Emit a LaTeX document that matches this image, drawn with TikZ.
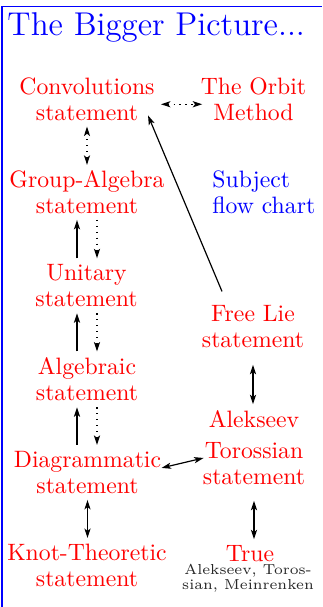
\documentclass[tikz,border=0pt]{standalone}
\usepackage{amsmath}
\usetikzlibrary{calc, positioning}
\usetikzlibrary{arrows.meta}

\newcommand{\upx}{0.4219pt}

\tikzset{
  stmt/.style={text=red, align=center, anchor=base, inner sep=0pt,
    font=\fontsize{10}{10.9}\selectfont},
  bluetext/.style={text=blue, inner sep=0pt},
  solidarr/.style={line width=0.5pt, -{Stealth[length=4pt, width=2.6pt, inset=1pt]},
    shorten <=2.5pt, shorten >=2.5pt},
  dotarr/.style={solidarr, dotted},
  bothsolid/.style={solidarr, {Stealth[length=4pt, width=2.6pt, inset=1pt]}-{Stealth[length=4pt, width=2.6pt, inset=1pt]}},
  bothdot/.style={bothsolid, dotted}
}

\begin{document}
\begin{tikzpicture}[x=0.4219pt, y=-0.4219pt]
\useasboundingbox (0,0) rectangle (322,607);

% frame
\draw[blue, line width=0.55pt] (2,607) -- (2,6.5) -- (322,6.5);

% title and side note
\node[bluetext, anchor=base west, font=\fontsize{13.9}{16}\selectfont] (title) at (7,35) {The Bigger Picture...};
\node[bluetext, anchor=base west, align=left, font=\fontsize{10}{10.9}\selectfont] (subject) at (212,213) {Subject\\flow chart};

% left column (base = last line)
\node[stmt] (conv) at (87,120.7) {Convolutions\\statement};
\node[stmt] (grpalg) at (87,213.3) {Group-Algebra\\statement};
\node[stmt] (unitary) at (86.5,306.7) {Unitary\\statement};
\node[stmt] (algebraic) at (87,400.7) {Algebraic\\statement};
\node[stmt] (diagram) at (87.5,493.3) {Diagrammatic\\statement};
\node[stmt] (knot) at (87,586.7) {Knot-Theoretic\\statement};

% right column
\node[stmt] (orbit) at (253.5,120.7) {The Orbit\\Method};
\node[stmt] (freelie) at (253,347.5) {Free Lie\\statement};
\node[stmt] (at) at (254,484) {Alekseev\\[2pt]Torossian\\statement};
\node[stmt] (true) at (250,561.7) {True};
\node[anchor=base, align=center, inner sep=0pt, text=black!85,
  font=\fontsize{6.1}{5.1}\selectfont] (credit) at (248,589.3) {Alekseev, Toros-\\sian, Meinrenken};

% connectors
\draw[bothdot, shorten <=2.5pt, shorten >=-0.8pt] ([yshift=-4.7*\upx]conv.east) -- ([yshift=-4.7*\upx]orbit.west);
\draw[bothdot, shorten <=2.2pt, shorten >=2.2pt] (conv.south) -- (grpalg.north);

\draw[solidarr] ([xshift=-10*\upx]unitary.north -| grpalg.south) -- ([xshift=-10*\upx]grpalg.south);
\draw[dotarr] ([xshift=10*\upx]grpalg.south) -- ([xshift=10*\upx]unitary.north -| grpalg.south);
\draw[solidarr] ([xshift=-10*\upx]algebraic.north) -- ([xshift=-10*\upx]unitary.south -| algebraic.north);
\draw[dotarr] ([xshift=10*\upx]unitary.south -| algebraic.north) -- ([xshift=10*\upx]algebraic.north);
\draw[solidarr] ([xshift=-10*\upx]diagram.north -| algebraic.south) -- ([xshift=-10*\upx]algebraic.south);
\draw[dotarr] ([xshift=10*\upx]algebraic.south) -- ([xshift=10*\upx]diagram.north -| algebraic.south);

\draw[bothsolid] (diagram.south) -- (knot.north -| diagram.south);
\draw[bothsolid, shorten <=7pt] (freelie.south) -- (at.north -| freelie.south);
\draw[bothsolid, shorten <=6.8pt] (at.south) -- (true.north -| at.south);
\draw[bothsolid, shorten <=0pt, shorten >=-0.5pt] ([yshift=4.5*\upx]diagram.east) -- ([yshift=-10.8*\upx]at.west);

\draw[solidarr, shorten <=0pt, shorten >=0pt] ([xshift=-31*\upx, yshift=13.6*\upx]freelie.north) -- ([xshift=-7*\upx, yshift=6*\upx]conv.south east);
\end{tikzpicture}
\end{document}
